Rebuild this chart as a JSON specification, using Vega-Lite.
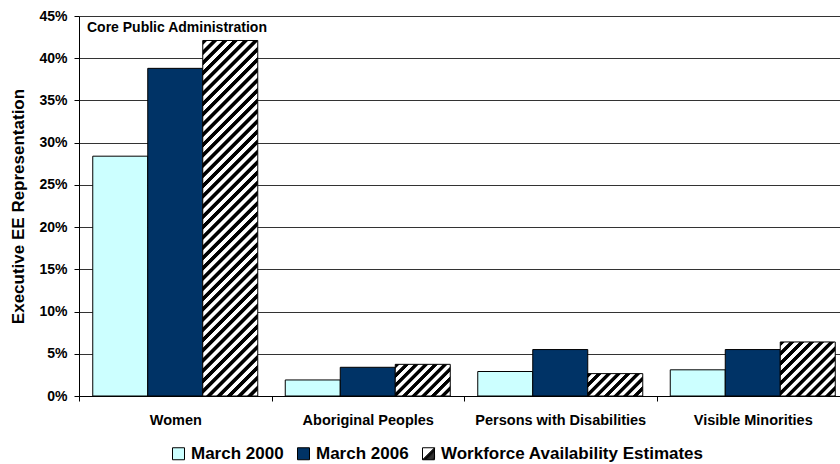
{
  "$schema": "https://vega.github.io/schema/vega-lite/v6.json",
  "autosize": {"type": "none"},
  "padding": {"left": 79, "top": 16, "right": 0, "bottom": 68},
  "width": 761,
  "height": 380,
  "config": {
    "font": "Liberation Sans",
    "view": {"stroke": null},
    "axis": {"labelFontWeight": "bold", "titleFontWeight": "bold", "labelColor": "#000", "titleColor": "#000", "domainColor": "#000", "tickColor": "#000"}
  },
  "layer": [
    {
      "data": {
        "values": [
          {"category": "Women", "series": "March 2000", "value": 0.284},
          {"category": "Women", "series": "March 2006", "value": 0.388},
          {"category": "Women", "series": "Workforce Availability Estimates", "value": 0.421},
          {"category": "Aboriginal Peoples", "series": "March 2000", "value": 0.019},
          {"category": "Aboriginal Peoples", "series": "March 2006", "value": 0.034},
          {"category": "Aboriginal Peoples", "series": "Workforce Availability Estimates", "value": 0.0375},
          {"category": "Persons with Disabilities", "series": "March 2000", "value": 0.029},
          {"category": "Persons with Disabilities", "series": "March 2006", "value": 0.055},
          {"category": "Persons with Disabilities", "series": "Workforce Availability Estimates", "value": 0.0265},
          {"category": "Visible Minorities", "series": "March 2000", "value": 0.031},
          {"category": "Visible Minorities", "series": "March 2006", "value": 0.055},
          {"category": "Visible Minorities", "series": "Workforce Availability Estimates", "value": 0.064}
        ]
      },
      "mark": {"type": "bar", "stroke": "#000", "strokeWidth": 1},
      "encoding": {
        "x": {
          "field": "category",
          "type": "nominal",
          "sort": null,
          "scale": {"paddingInner": 0, "paddingOuter": 0, "range": [0, 770]},
          "axis": {
            "title": null,
            "labelAngle": 0,
            "labelFontSize": 14.5,
            "labelPadding": 12,
            "tickBand": "extent",
            "tickSize": 5,
            "grid": false
          }
        },
        "xOffset": {
          "field": "series",
          "type": "nominal",
          "sort": null,
          "scale": {"paddingInner": 0, "paddingOuter": 0.25}
        },
        "y": {
          "field": "value",
          "type": "quantitative",
          "scale": {"domain": [0, 0.45], "nice": false},
          "axis": {
            "title": "Executive EE Representation",
            "titleFontSize": 17,
            "titleX": -61,
            "titleY": 190,
            "titleAngle": -90,
            "titleAlign": "center",
            "titleBaseline": "middle",
            "format": ".0%",
            "values": [0, 0.05, 0.1, 0.15, 0.2, 0.25, 0.3, 0.35, 0.4, 0.45],
            "labelFontSize": 14,
            "labelPadding": 7,
            "tickSize": 5,
            "grid": true,
            "gridColor": "#333",
            "gridWidth": 1
          }
        },
        "color": {
          "field": "series",
          "type": "nominal",
          "sort": null,
          "scale": {
            "domain": ["March 2000", "March 2006", "Workforce Availability Estimates"],
            "range": ["#CCFFFF", "#003366", "#FFFFFF"]
          },
          "legend": {
            "title": null,
            "orient": "none",
            "direction": "horizontal",
            "legendX": 91,
            "legendY": 429,
            "padding": 0,
            "symbolType": "square",
            "symbolSize": 144,
            "symbolStrokeColor": "#000",
            "symbolStrokeWidth": 1,
            "symbolOpacity": 1,
            "labelFontSize": 17,
            "labelFontWeight": "bold",
            "labelColor": "#000",
            "labelLimit": 0,
            "labelOffset": 4,
            "columnPadding": 11,
            "encode": {
              "symbols": {
                "update": {
                  "shape": [
                    {
                      "test": "datum.value === 'Workforce Availability Estimates'",
                      "value": "M-1,-1H1V1H-1Z M1,-1L-1,1 M1,-0.85L-0.85,1 M1,-0.7L-0.7,1 M1,-0.55L-0.55,1 M1,-0.4L-0.4,1 M1,-0.25L-0.25,1 M1,-0.1L-0.1,1 M1,0.05L0.05,1 M1,0.2L0.2,1 M1,0.35L0.35,1 M1,0.5L0.5,1 M1,0.65L0.65,1 M1,0.8L0.8,1"
                    },
                    {"value": "square"}
                  ],
                  "stroke": {"value": "#000"}
                }
              }
            }
          },
          "condition": [
            {
              "test": "datum.series === 'Workforce Availability Estimates' && datum.category === 'Women'",
              "value": {"gradient": "linear", "x1": 0, "y1": 0, "x2": 0.1746, "y2": 1.1278, "stops": [
                {"offset": 0, "color": "#000"}, {"offset": 0.01, "color": "#000"}, {"offset": 0.0125, "color": "#fff"}, {"offset": 0.0225, "color": "#fff"},
                {"offset": 0.025, "color": "#000"}, {"offset": 0.035, "color": "#000"}, {"offset": 0.0375, "color": "#fff"}, {"offset": 0.0475, "color": "#fff"},
                {"offset": 0.05, "color": "#000"}, {"offset": 0.06, "color": "#000"}, {"offset": 0.0625, "color": "#fff"}, {"offset": 0.0725, "color": "#fff"},
                {"offset": 0.075, "color": "#000"}, {"offset": 0.085, "color": "#000"}, {"offset": 0.0875, "color": "#fff"}, {"offset": 0.0975, "color": "#fff"},
                {"offset": 0.1, "color": "#000"}, {"offset": 0.11, "color": "#000"}, {"offset": 0.1125, "color": "#fff"}, {"offset": 0.1225, "color": "#fff"},
                {"offset": 0.125, "color": "#000"}, {"offset": 0.135, "color": "#000"}, {"offset": 0.1375, "color": "#fff"}, {"offset": 0.1475, "color": "#fff"},
                {"offset": 0.15, "color": "#000"}, {"offset": 0.16, "color": "#000"}, {"offset": 0.1625, "color": "#fff"}, {"offset": 0.1725, "color": "#fff"},
                {"offset": 0.175, "color": "#000"}, {"offset": 0.185, "color": "#000"}, {"offset": 0.1875, "color": "#fff"}, {"offset": 0.1975, "color": "#fff"},
                {"offset": 0.2, "color": "#000"}, {"offset": 0.21, "color": "#000"}, {"offset": 0.2125, "color": "#fff"}, {"offset": 0.2225, "color": "#fff"},
                {"offset": 0.225, "color": "#000"}, {"offset": 0.235, "color": "#000"}, {"offset": 0.2375, "color": "#fff"}, {"offset": 0.2475, "color": "#fff"},
                {"offset": 0.25, "color": "#000"}, {"offset": 0.26, "color": "#000"}, {"offset": 0.2625, "color": "#fff"}, {"offset": 0.2725, "color": "#fff"},
                {"offset": 0.275, "color": "#000"}, {"offset": 0.285, "color": "#000"}, {"offset": 0.2875, "color": "#fff"}, {"offset": 0.2975, "color": "#fff"},
                {"offset": 0.3, "color": "#000"}, {"offset": 0.31, "color": "#000"}, {"offset": 0.3125, "color": "#fff"}, {"offset": 0.3225, "color": "#fff"},
                {"offset": 0.325, "color": "#000"}, {"offset": 0.335, "color": "#000"}, {"offset": 0.3375, "color": "#fff"}, {"offset": 0.3475, "color": "#fff"},
                {"offset": 0.35, "color": "#000"}, {"offset": 0.36, "color": "#000"}, {"offset": 0.3625, "color": "#fff"}, {"offset": 0.3725, "color": "#fff"},
                {"offset": 0.375, "color": "#000"}, {"offset": 0.385, "color": "#000"}, {"offset": 0.3875, "color": "#fff"}, {"offset": 0.3975, "color": "#fff"},
                {"offset": 0.4, "color": "#000"}, {"offset": 0.41, "color": "#000"}, {"offset": 0.4125, "color": "#fff"}, {"offset": 0.4225, "color": "#fff"},
                {"offset": 0.425, "color": "#000"}, {"offset": 0.435, "color": "#000"}, {"offset": 0.4375, "color": "#fff"}, {"offset": 0.4475, "color": "#fff"},
                {"offset": 0.45, "color": "#000"}, {"offset": 0.46, "color": "#000"}, {"offset": 0.4625, "color": "#fff"}, {"offset": 0.4725, "color": "#fff"},
                {"offset": 0.475, "color": "#000"}, {"offset": 0.485, "color": "#000"}, {"offset": 0.4875, "color": "#fff"}, {"offset": 0.4975, "color": "#fff"},
                {"offset": 0.5, "color": "#000"}, {"offset": 0.51, "color": "#000"}, {"offset": 0.5125, "color": "#fff"}, {"offset": 0.5225, "color": "#fff"},
                {"offset": 0.525, "color": "#000"}, {"offset": 0.535, "color": "#000"}, {"offset": 0.5375, "color": "#fff"}, {"offset": 0.5475, "color": "#fff"},
                {"offset": 0.55, "color": "#000"}, {"offset": 0.56, "color": "#000"}, {"offset": 0.5625, "color": "#fff"}, {"offset": 0.5725, "color": "#fff"},
                {"offset": 0.575, "color": "#000"}, {"offset": 0.585, "color": "#000"}, {"offset": 0.5875, "color": "#fff"}, {"offset": 0.5975, "color": "#fff"},
                {"offset": 0.6, "color": "#000"}, {"offset": 0.61, "color": "#000"}, {"offset": 0.6125, "color": "#fff"}, {"offset": 0.6225, "color": "#fff"},
                {"offset": 0.625, "color": "#000"}, {"offset": 0.635, "color": "#000"}, {"offset": 0.6375, "color": "#fff"}, {"offset": 0.6475, "color": "#fff"},
                {"offset": 0.65, "color": "#000"}, {"offset": 0.66, "color": "#000"}, {"offset": 0.6625, "color": "#fff"}, {"offset": 0.6725, "color": "#fff"},
                {"offset": 0.675, "color": "#000"}, {"offset": 0.685, "color": "#000"}, {"offset": 0.6875, "color": "#fff"}, {"offset": 0.6975, "color": "#fff"},
                {"offset": 0.7, "color": "#000"}, {"offset": 0.71, "color": "#000"}, {"offset": 0.7125, "color": "#fff"}, {"offset": 0.7225, "color": "#fff"},
                {"offset": 0.725, "color": "#000"}, {"offset": 0.735, "color": "#000"}, {"offset": 0.7375, "color": "#fff"}, {"offset": 0.7475, "color": "#fff"},
                {"offset": 0.75, "color": "#000"}, {"offset": 0.76, "color": "#000"}, {"offset": 0.7625, "color": "#fff"}, {"offset": 0.7725, "color": "#fff"},
                {"offset": 0.775, "color": "#000"}, {"offset": 0.785, "color": "#000"}, {"offset": 0.7875, "color": "#fff"}, {"offset": 0.7975, "color": "#fff"},
                {"offset": 0.8, "color": "#000"}, {"offset": 0.81, "color": "#000"}, {"offset": 0.8125, "color": "#fff"}, {"offset": 0.8225, "color": "#fff"},
                {"offset": 0.825, "color": "#000"}, {"offset": 0.835, "color": "#000"}, {"offset": 0.8375, "color": "#fff"}, {"offset": 0.8475, "color": "#fff"},
                {"offset": 0.85, "color": "#000"}, {"offset": 0.86, "color": "#000"}, {"offset": 0.8625, "color": "#fff"}, {"offset": 0.8725, "color": "#fff"},
                {"offset": 0.875, "color": "#000"}, {"offset": 0.885, "color": "#000"}, {"offset": 0.8875, "color": "#fff"}, {"offset": 0.8975, "color": "#fff"},
                {"offset": 0.9, "color": "#000"}, {"offset": 0.91, "color": "#000"}, {"offset": 0.9125, "color": "#fff"}, {"offset": 0.9225, "color": "#fff"},
                {"offset": 0.925, "color": "#000"}, {"offset": 0.935, "color": "#000"}, {"offset": 0.9375, "color": "#fff"}, {"offset": 0.9475, "color": "#fff"},
                {"offset": 0.95, "color": "#000"}, {"offset": 0.96, "color": "#000"}, {"offset": 0.9625, "color": "#fff"}, {"offset": 0.9725, "color": "#fff"},
                {"offset": 0.975, "color": "#000"}, {"offset": 0.985, "color": "#000"}, {"offset": 0.9875, "color": "#fff"}, {"offset": 0.9975, "color": "#fff"},
                {"offset": 1, "color": "#000"}
              ]}
            },
            {
              "test": "datum.series === 'Workforce Availability Estimates' && datum.category === 'Aboriginal Peoples'",
              "value": {"gradient": "linear", "x1": 0, "y1": 0, "x2": 1.1838, "y2": 0.6801, "stops": [
                {"offset": 0, "color": "#000"}, {"offset": 0.0444, "color": "#000"}, {"offset": 0.0556, "color": "#fff"}, {"offset": 0.1, "color": "#fff"},
                {"offset": 0.1111, "color": "#000"}, {"offset": 0.1556, "color": "#000"}, {"offset": 0.1667, "color": "#fff"}, {"offset": 0.2111, "color": "#fff"},
                {"offset": 0.2222, "color": "#000"}, {"offset": 0.2667, "color": "#000"}, {"offset": 0.2778, "color": "#fff"}, {"offset": 0.3222, "color": "#fff"},
                {"offset": 0.3333, "color": "#000"}, {"offset": 0.3778, "color": "#000"}, {"offset": 0.3889, "color": "#fff"}, {"offset": 0.4333, "color": "#fff"},
                {"offset": 0.4444, "color": "#000"}, {"offset": 0.4889, "color": "#000"}, {"offset": 0.5, "color": "#fff"}, {"offset": 0.5444, "color": "#fff"},
                {"offset": 0.5556, "color": "#000"}, {"offset": 0.6, "color": "#000"}, {"offset": 0.6111, "color": "#fff"}, {"offset": 0.6556, "color": "#fff"},
                {"offset": 0.6667, "color": "#000"}, {"offset": 0.7111, "color": "#000"}, {"offset": 0.7222, "color": "#fff"}, {"offset": 0.7667, "color": "#fff"},
                {"offset": 0.7778, "color": "#000"}, {"offset": 0.8222, "color": "#000"}, {"offset": 0.8333, "color": "#fff"}, {"offset": 0.8778, "color": "#fff"},
                {"offset": 0.8889, "color": "#000"}, {"offset": 0.9333, "color": "#000"}, {"offset": 0.9444, "color": "#fff"}, {"offset": 0.9889, "color": "#fff"},
                {"offset": 1, "color": "#000"}
              ]}
            },
            {
              "test": "datum.series === 'Workforce Availability Estimates' && datum.category === 'Persons with Disabilities'",
              "value": {"gradient": "linear", "x1": 0, "y1": 0, "x2": 1.207, "y2": 0.4907, "stops": [
                {"offset": 0, "color": "#000"}, {"offset": 0.05, "color": "#000"}, {"offset": 0.0625, "color": "#fff"}, {"offset": 0.1125, "color": "#fff"},
                {"offset": 0.125, "color": "#000"}, {"offset": 0.175, "color": "#000"}, {"offset": 0.1875, "color": "#fff"}, {"offset": 0.2375, "color": "#fff"},
                {"offset": 0.25, "color": "#000"}, {"offset": 0.3, "color": "#000"}, {"offset": 0.3125, "color": "#fff"}, {"offset": 0.3625, "color": "#fff"},
                {"offset": 0.375, "color": "#000"}, {"offset": 0.425, "color": "#000"}, {"offset": 0.4375, "color": "#fff"}, {"offset": 0.4875, "color": "#fff"},
                {"offset": 0.5, "color": "#000"}, {"offset": 0.55, "color": "#000"}, {"offset": 0.5625, "color": "#fff"}, {"offset": 0.6125, "color": "#fff"},
                {"offset": 0.625, "color": "#000"}, {"offset": 0.675, "color": "#000"}, {"offset": 0.6875, "color": "#fff"}, {"offset": 0.7375, "color": "#fff"},
                {"offset": 0.75, "color": "#000"}, {"offset": 0.8, "color": "#000"}, {"offset": 0.8125, "color": "#fff"}, {"offset": 0.8625, "color": "#fff"},
                {"offset": 0.875, "color": "#000"}, {"offset": 0.925, "color": "#000"}, {"offset": 0.9375, "color": "#fff"}, {"offset": 0.9875, "color": "#fff"},
                {"offset": 1, "color": "#000"}
              ]}
            },
            {
              "test": "datum.series === 'Workforce Availability Estimates' && datum.category === 'Visible Minorities'",
              "value": {"gradient": "linear", "x1": 0, "y1": 0, "x2": 1.0091, "y2": 0.9907, "stops": [
                {"offset": 0, "color": "#000"}, {"offset": 0.0364, "color": "#000"}, {"offset": 0.0455, "color": "#fff"}, {"offset": 0.0818, "color": "#fff"},
                {"offset": 0.0909, "color": "#000"}, {"offset": 0.1273, "color": "#000"}, {"offset": 0.1364, "color": "#fff"}, {"offset": 0.1727, "color": "#fff"},
                {"offset": 0.1818, "color": "#000"}, {"offset": 0.2182, "color": "#000"}, {"offset": 0.2273, "color": "#fff"}, {"offset": 0.2636, "color": "#fff"},
                {"offset": 0.2727, "color": "#000"}, {"offset": 0.3091, "color": "#000"}, {"offset": 0.3182, "color": "#fff"}, {"offset": 0.3545, "color": "#fff"},
                {"offset": 0.3636, "color": "#000"}, {"offset": 0.4, "color": "#000"}, {"offset": 0.4091, "color": "#fff"}, {"offset": 0.4455, "color": "#fff"},
                {"offset": 0.4545, "color": "#000"}, {"offset": 0.4909, "color": "#000"}, {"offset": 0.5, "color": "#fff"}, {"offset": 0.5364, "color": "#fff"},
                {"offset": 0.5455, "color": "#000"}, {"offset": 0.5818, "color": "#000"}, {"offset": 0.5909, "color": "#fff"}, {"offset": 0.6273, "color": "#fff"},
                {"offset": 0.6364, "color": "#000"}, {"offset": 0.6727, "color": "#000"}, {"offset": 0.6818, "color": "#fff"}, {"offset": 0.7182, "color": "#fff"},
                {"offset": 0.7273, "color": "#000"}, {"offset": 0.7636, "color": "#000"}, {"offset": 0.7727, "color": "#fff"}, {"offset": 0.8091, "color": "#fff"},
                {"offset": 0.8182, "color": "#000"}, {"offset": 0.8545, "color": "#000"}, {"offset": 0.8636, "color": "#fff"}, {"offset": 0.9, "color": "#fff"},
                {"offset": 0.9091, "color": "#000"}, {"offset": 0.9455, "color": "#000"}, {"offset": 0.9545, "color": "#fff"}, {"offset": 0.9818, "color": "#fff"},
                {"offset": 1, "color": "#000"}
              ]}
            }
          ]
        }
      }
    },
    {
      "data": {"values": [{"label": "Core Public Administration", "category": "Women", "top": 0.45}]},
      "mark": {"type": "text", "align": "left", "baseline": "alphabetic", "dx": 8, "dy": 16, "fontSize": 14, "fontWeight": "bold", "color": "#000"},
      "encoding": {
        "x": {"field": "category", "type": "nominal", "sort": null, "bandPosition": 0},
        "y": {"field": "top", "type": "quantitative"},
        "text": {"field": "label"}
      }
    }
  ]
}
